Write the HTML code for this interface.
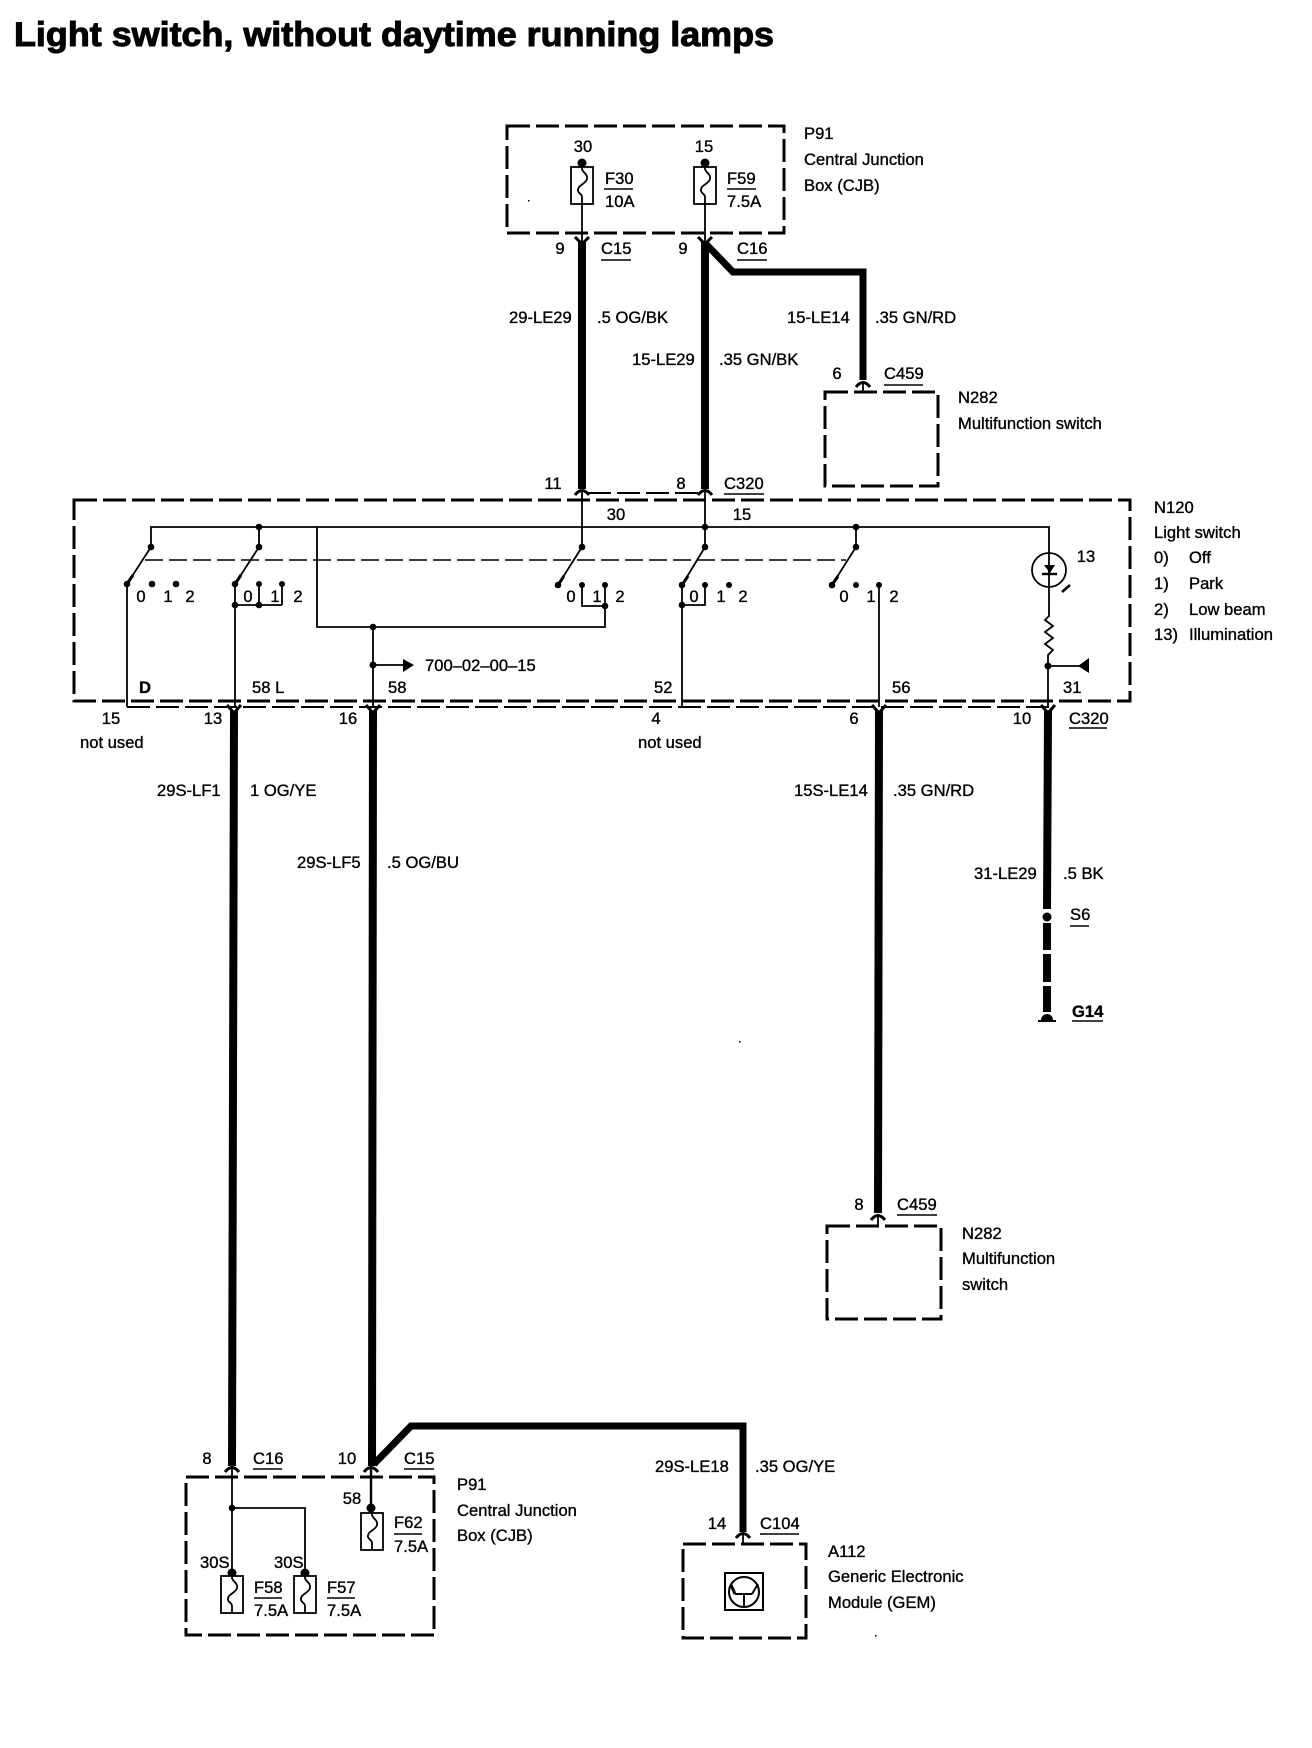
<!DOCTYPE html>
<html><head><meta charset="utf-8"><title>Light switch, without daytime running lamps</title>
<style>
html,body{margin:0;padding:0;background:#fff}
svg{display:block}
text{font-family:"Liberation Sans",sans-serif;font-size:16.6px;fill:#000;stroke:#000;stroke-width:.35}
.m{text-anchor:middle}
.t{font-size:34px;font-weight:bold;stroke-width:1}
.box{fill:none;stroke:#000;stroke-width:3;stroke-dasharray:23 6}
.w{fill:none;stroke:#000;stroke-width:8}
.w7{fill:none;stroke:#000;stroke-width:7;stroke-linejoin:miter}
.l{fill:none;stroke:#000;stroke-width:1.8}
.u{fill:none;stroke:#000;stroke-width:1.5}
.cap{fill:none;stroke:#000;stroke-width:3}
.dl{fill:none;stroke:#000;stroke-width:2;stroke-dasharray:23 6}
.d{fill:#000}
</style></head><body>
<svg xmlns="http://www.w3.org/2000/svg" width="1312" height="1748" viewBox="0 0 1312 1748">
<defs>
<g id="fuse"><rect x="-11" y="0" width="22" height="37" fill="#fff" stroke="#000" stroke-width="1.8"/><path d="M0 -4V2C1 6 6 7 5 12C4 17 -5 18 -4 24C-3 27 0 27 0 30V37" fill="none" stroke="#000" stroke-width="1.8"/></g>
</defs>
<rect width="1312" height="1748" fill="#fff"/>
<text class="t" x="14" y="46" textLength="760" lengthAdjust="spacingAndGlyphs">Light switch, without daytime running lamps</text>

<!-- top P91 -->
<path class="box" d="M507 126H784V233H507Z"/>
<text class="m" x="583" y="152">30</text><text class="m" x="704" y="152">15</text>
<circle class="d" cx="582" cy="163" r="4.5"/><circle class="d" cx="705" cy="163" r="4.5"/>
<use href="#fuse" x="582" y="167"/><use href="#fuse" x="705" y="167"/>
<path class="l" d="M582 204V242M705 204V242"/>
<text x="605" y="184">F30</text><path class="u" d="M604 189H633"/><text x="605" y="207">10A</text>
<text x="727" y="184">F59</text><path class="u" d="M727 189H756"/><text x="727" y="207">7.5A</text>
<text x="804" y="139">P91</text><text x="804" y="165">Central Junction</text><text x="804" y="191">Box (CJB)</text>

<path class="cap" d="M575 237L582 244L589 237M698 237L705 244L712 237"/>
<text class="m" x="560" y="254">9</text><text x="601" y="254">C15</text><path class="u" d="M601 260H631"/>
<text class="m" x="683" y="254">9</text><text x="737" y="254">C16</text><path class="u" d="M737 260H767"/>

<path class="w" d="M582 241V489"/>
<path class="w" d="M705 241V489"/>
<path class="w7" d="M705 243L733 272H863V380"/>
<text x="509" y="323">29-LE29</text><text x="597" y="323">.5 OG/BK</text>
<text x="632" y="365">15-LE29</text><text x="719" y="365">.35 GN/BK</text>
<text x="787" y="323">15-LE14</text><text x="875" y="323">.35 GN/RD</text>

<path class="cap" d="M856 387Q863 378 870 387"/><path class="l" d="M863 384V392"/>
<text class="m" x="837" y="379">6</text><text x="884" y="379">C459</text><path class="u" d="M884 385H923"/>
<path class="box" d="M825 392H938V486H825Z"/>
<text x="958" y="403">N282</text><text x="958" y="429">Multifunction switch</text>

<!-- N120 -->
<text class="m" x="553" y="489">11</text><text class="m" x="681" y="489">8</text><text x="724" y="489">C320</text><path class="u" d="M724 494H764"/>
<path class="cap" d="M575 495Q582 486 589 495M698 495Q705 486 712 495"/>
<path class="dl" d="M588 493H699"/>
<path class="box" d="M74 500H1130V701H74Z"/>
<path class="dl" d="M127 707H1049"/>
<text class="m" x="616" y="520">30</text><text class="m" x="742" y="520">15</text>
<text x="1154" y="513">N120</text><text x="1154" y="538">Light switch</text>
<text x="1154" y="563">0)</text><text x="1189" y="563">Off</text>
<text x="1154" y="589">1)</text><text x="1189" y="589">Park</text>
<text x="1154" y="615">2)</text><text x="1189" y="615">Low beam</text>
<text x="1154" y="640">13)</text><text x="1189" y="640">Illumination</text>

<!-- buses -->
<path class="l" d="M151 547V527H1049V553M582 490V547M705 490V547M259 527V547M856 527V547"/>
<path class="l" d="M317 527V627H605V585M373 627V707"/>
<circle class="d" cx="259" cy="527" r="3.3"/><circle class="d" cx="705" cy="527" r="3.3"/><circle class="d" cx="856" cy="527" r="3.3"/>
<circle class="d" cx="373" cy="627" r="3.3"/>
<path class="u" stroke-dasharray="18 6" d="M145 560H846"/>
<circle class="d" cx="373" cy="665" r="3.5"/><path class="l" d="M373 665H404"/><path class="d" d="M403 659L414 665L403 672Z"/>
<text x="425" y="671">700–02–00–15</text>

<!-- switches -->
<g class="d"><circle cx="151" cy="547" r="3.3"/><circle cx="127" cy="584" r="3.3"/><circle cx="152" cy="584" r="3.3"/><circle cx="176" cy="584" r="3.3"/>
<circle cx="259" cy="547" r="3.3"/><circle cx="235" cy="584" r="3.3"/><circle cx="259" cy="584" r="3"/><circle cx="282" cy="584" r="3"/><circle cx="235" cy="605" r="3.3"/><circle cx="259" cy="605" r="3.3"/>
<circle cx="582" cy="547" r="3.3"/><circle cx="558" cy="585" r="3.3"/><circle cx="582" cy="585" r="3"/><circle cx="605" cy="585" r="3"/><circle cx="605" cy="606" r="3.3"/>
<circle cx="705" cy="547" r="3.3"/><circle cx="682" cy="585" r="3.3"/><circle cx="705" cy="585" r="3"/><circle cx="729" cy="585" r="3"/><circle cx="682" cy="605" r="3.3"/>
<circle cx="856" cy="547" r="3.3"/><circle cx="832" cy="585" r="3.3"/><circle cx="856" cy="585" r="3"/><circle cx="879" cy="585" r="3"/></g>
<path class="l" d="M151 547L127 584M259 547L235 584M582 547L558 585M705 547L682 585M856 547L832 585"/>
<path fill="none" stroke="#000" stroke-width="3" d="M133 575L127 584M241 575L235 584M564 576L558 585M688 576L682 585M838 576L832 585"/>
<path class="l" d="M127 584V707"/>
<path class="l" d="M235 584V707M259 584V605M282 584V605M235 605H282"/>
<path class="l" d="M582 585V606H605"/>
<path class="l" d="M682 585V707M682 605H705V585"/>
<path class="l" d="M879 585V707"/>
<text class="m" x="141" y="602">0</text><text class="m" x="168" y="602">1</text><text class="m" x="190" y="602">2</text>
<text class="m" x="248" y="602">0</text><text class="m" x="275" y="602">1</text><text class="m" x="298" y="602">2</text>
<text class="m" x="571" y="602">0</text><text class="m" x="597" y="602">1</text><text class="m" x="620" y="602">2</text>
<text class="m" x="694" y="602">0</text><text class="m" x="721" y="602">1</text><text class="m" x="743" y="602">2</text>
<text class="m" x="844" y="602">0</text><text class="m" x="871" y="602">1</text><text class="m" x="894" y="602">2</text>

<!-- lamp -->
<circle cx="1049" cy="570" r="17" fill="none" stroke="#000" stroke-width="1.8"/>
<path class="l" d="M1049 553V617"/>
<path class="d" d="M1044 565H1055L1050 573Z"/><path fill="none" stroke="#000" stroke-width="2.4" d="M1042 574H1057"/>
<path fill="none" stroke="#000" stroke-width="2.5" d="M1062 592L1070 585"/>
<text class="m" x="1086" y="562">13</text>
<path class="l" d="M1049 616L1045 620L1053 626L1045 632L1053 638L1045 644L1053 650L1048 655V707"/>
<circle class="d" cx="1048" cy="666" r="3.5"/><path class="l" d="M1048 666H1080"/><path class="d" d="M1078 666L1089 658V673Z"/>

<text x="139" y="693" style="font-weight:bold">D</text><text x="252" y="693">58 L</text><text x="388" y="693">58</text><text x="654" y="693">52</text><text x="892" y="693">56</text><text x="1063" y="693">31</text>
<text class="m" x="111" y="724">15</text><text class="m" x="213" y="724">13</text><text class="m" x="348" y="724">16</text><text class="m" x="656" y="724">4</text><text class="m" x="854" y="724">6</text><text class="m" x="1022" y="724">10</text>
<text x="1069" y="724">C320</text><path class="u" d="M1069 728H1107"/>
<text x="80" y="748">not used</text><text x="638" y="748">not used</text>

<path class="cap" d="M227 705L234 713L241 705M366 705L373 713L380 705M872 705L879 713L886 705M1041 705L1048 713L1055 705"/>

<!-- long wires -->
<path class="w" d="M234 711L232 1466"/>
<path class="w" d="M373 711L372 1466"/>
<path class="w" d="M879 711L878 1213"/>
<path class="w" d="M1048 711L1047 909M1047 923V950M1047 954V982M1047 986V1012"/>
<circle class="d" cx="1047" cy="917" r="4.5"/>
<path class="d" d="M1041 1020A6 6 0 0 1 1053 1020Z"/><path fill="none" stroke="#000" stroke-width="2" d="M1038 1021H1056"/>
<text x="157" y="796">29S-LF1</text><text x="250" y="796">1 OG/YE</text>
<text x="297" y="868">29S-LF5</text><text x="387" y="868">.5 OG/BU</text>
<text x="794" y="796">15S-LE14</text><text x="893" y="796">.35 GN/RD</text>
<text x="974" y="879">31-LE29</text><text x="1063" y="879">.5 BK</text>
<text x="1070" y="920">S6</text><path class="u" d="M1070 926H1089"/>
<text x="1072" y="1017" style="font-weight:bold">G14</text><path class="u" d="M1072 1021H1103"/>

<!-- lower N282 -->
<path class="cap" d="M871 1220Q878 1211 885 1220"/><path class="l" d="M878 1216V1226"/>
<text class="m" x="859" y="1210">8</text><text x="897" y="1210">C459</text><path class="u" d="M897 1215H937"/>
<path class="box" d="M827 1226H941V1319H827Z"/>
<text x="962" y="1239">N282</text><text x="962" y="1264">Multifunction</text><text x="962" y="1290">switch</text>

<!-- lower wire branch -->
<path class="w7" d="M374 1464L411 1426H743V1532" stroke-width="8"/>
<text x="655" y="1472">29S-LE18</text><text x="755" y="1472">.35 OG/YE</text>

<!-- lower P91 -->
<text class="m" x="207" y="1464">8</text><text x="253" y="1464">C16</text><path class="u" d="M253 1469H282"/>
<text class="m" x="347" y="1464">10</text><text x="404" y="1464">C15</text><path class="u" d="M404 1469H434"/>
<path class="cap" d="M225 1472Q232 1463 239 1472M364 1472Q371 1463 378 1472"/>
<path class="box" d="M186 1477H434V1635H186Z"/>
<path class="l" d="M232 1466V1573M232 1508H305V1573"/>
<path fill="none" stroke="#000" stroke-width="2.4" d="M371 1466V1508"/>
<circle class="d" cx="232" cy="1508" r="3.3"/>
<circle class="d" cx="232" cy="1573" r="4.5"/><circle class="d" cx="305" cy="1573" r="4.5"/><circle class="d" cx="371" cy="1508" r="4.5"/>
<use href="#fuse" x="232" y="1576"/><use href="#fuse" x="305" y="1576"/><use href="#fuse" x="372" y="1513"/>
<text class="m" x="352" y="1504">58</text><text x="200" y="1568">30S</text><text x="274" y="1568">30S</text>
<text x="254" y="1593">F58</text><path class="u" d="M254 1598H282"/><text x="254" y="1616">7.5A</text>
<text x="327" y="1593">F57</text><path class="u" d="M327 1598H355"/><text x="327" y="1616">7.5A</text>
<text x="394" y="1528">F62</text><path class="u" d="M394 1534H422"/><text x="394" y="1552">7.5A</text>
<text x="457" y="1490">P91</text><text x="457" y="1516">Central Junction</text><text x="457" y="1541">Box (CJB)</text>

<!-- A112 -->
<path class="cap" d="M736 1538Q743 1529 750 1538"/><path class="l" d="M743 1533V1544"/>
<text class="m" x="717" y="1529">14</text><text x="760" y="1529">C104</text><path class="u" d="M760 1534H799"/>
<path class="box" d="M683 1544H806V1638H683Z"/>
<rect x="725" y="1573" width="38" height="37" fill="none" stroke="#000" stroke-width="2"/>
<circle cx="744" cy="1592" r="15" fill="none" stroke="#000" stroke-width="2"/>
<path fill="none" stroke="#000" stroke-width="2" d="M735 1594H752M744 1594V1607M752 1594L758 1584"/>
<path fill="none" stroke="#000" stroke-width="3" d="M735 1594L731 1585"/>
<text x="828" y="1557">A112</text><text x="828" y="1582">Generic Electronic</text><text x="828" y="1608">Module (GEM)</text>

<!-- specks -->
<g class="d"><rect x="528" y="200" width="1.5" height="1.5"/><rect x="739" y="1041" width="1.5" height="1.5"/><rect x="875" y="1635" width="1.5" height="1.5"/></g>
</svg>
</body></html>
